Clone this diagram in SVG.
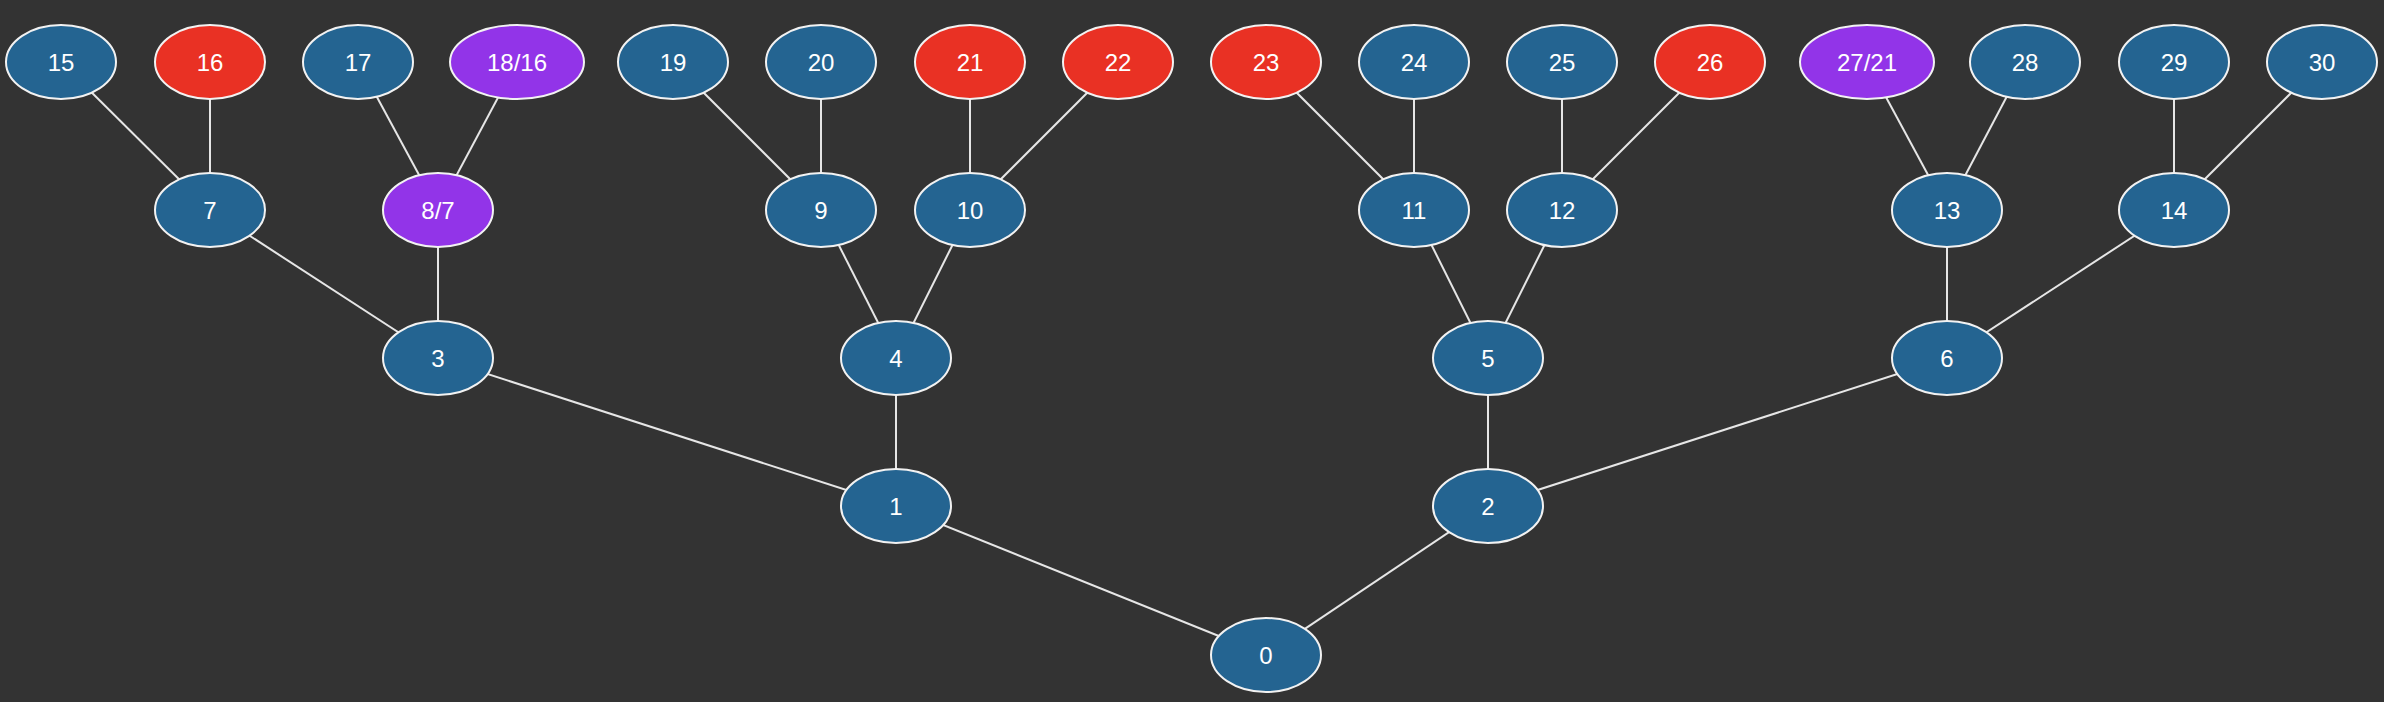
<svg xmlns="http://www.w3.org/2000/svg" width="2384" height="702" viewBox="0 0 2384 702">
<style>
.n ellipse{stroke:#f2f2f2;stroke-width:2}
.b ellipse{fill:#246491}
.r ellipse{fill:#e93124}
.p ellipse{fill:#9234e8}
.n text{fill:#ffffff;font-family:"Liberation Sans",Arial,sans-serif;font-size:24px;text-anchor:middle;dominant-baseline:central}
#edges line{stroke:#e6e6e6;stroke-width:2}
</style>
<rect width="2384" height="702" fill="#333333"/>
<g id="edges">
<line x1="61" y1="62" x2="210" y2="210"/>
<line x1="210" y1="62" x2="210" y2="210"/>
<line x1="358" y1="62" x2="438" y2="210"/>
<line x1="517" y1="62" x2="438" y2="210"/>
<line x1="673" y1="62" x2="821" y2="210"/>
<line x1="821" y1="62" x2="821" y2="210"/>
<line x1="970" y1="62" x2="970" y2="210"/>
<line x1="1118" y1="62" x2="970" y2="210"/>
<line x1="1266" y1="62" x2="1414" y2="210"/>
<line x1="1414" y1="62" x2="1414" y2="210"/>
<line x1="1562" y1="62" x2="1562" y2="210"/>
<line x1="1710" y1="62" x2="1562" y2="210"/>
<line x1="1867" y1="62" x2="1947" y2="210"/>
<line x1="2025" y1="62" x2="1947" y2="210"/>
<line x1="2174" y1="62" x2="2174" y2="210"/>
<line x1="2322" y1="62" x2="2174" y2="210"/>
<line x1="210" y1="210" x2="438" y2="358"/>
<line x1="438" y1="210" x2="438" y2="358"/>
<line x1="821" y1="210" x2="896" y2="358"/>
<line x1="970" y1="210" x2="896" y2="358"/>
<line x1="1414" y1="210" x2="1488" y2="358"/>
<line x1="1562" y1="210" x2="1488" y2="358"/>
<line x1="1947" y1="210" x2="1947" y2="358"/>
<line x1="2174" y1="210" x2="1947" y2="358"/>
<line x1="438" y1="358" x2="896" y2="506"/>
<line x1="896" y1="358" x2="896" y2="506"/>
<line x1="1488" y1="358" x2="1488" y2="506"/>
<line x1="1947" y1="358" x2="1488" y2="506"/>
<line x1="896" y1="506" x2="1266" y2="655"/>
<line x1="1488" y1="506" x2="1266" y2="655"/>
</g>
<g id="n15" class="n b"><ellipse cx="61" cy="62" rx="55" ry="37"/><text x="61" y="62">15</text></g>
<g id="n16" class="n r"><ellipse cx="210" cy="62" rx="55" ry="37"/><text x="210" y="62">16</text></g>
<g id="n17" class="n b"><ellipse cx="358" cy="62" rx="55" ry="37"/><text x="358" y="62">17</text></g>
<g id="n18" class="n p"><ellipse cx="517" cy="62" rx="67" ry="37"/><text x="517" y="62">18/16</text></g>
<g id="n19" class="n b"><ellipse cx="673" cy="62" rx="55" ry="37"/><text x="673" y="62">19</text></g>
<g id="n20" class="n b"><ellipse cx="821" cy="62" rx="55" ry="37"/><text x="821" y="62">20</text></g>
<g id="n21" class="n r"><ellipse cx="970" cy="62" rx="55" ry="37"/><text x="970" y="62">21</text></g>
<g id="n22" class="n r"><ellipse cx="1118" cy="62" rx="55" ry="37"/><text x="1118" y="62">22</text></g>
<g id="n23" class="n r"><ellipse cx="1266" cy="62" rx="55" ry="37"/><text x="1266" y="62">23</text></g>
<g id="n24" class="n b"><ellipse cx="1414" cy="62" rx="55" ry="37"/><text x="1414" y="62">24</text></g>
<g id="n25" class="n b"><ellipse cx="1562" cy="62" rx="55" ry="37"/><text x="1562" y="62">25</text></g>
<g id="n26" class="n r"><ellipse cx="1710" cy="62" rx="55" ry="37"/><text x="1710" y="62">26</text></g>
<g id="n27" class="n p"><ellipse cx="1867" cy="62" rx="67" ry="37"/><text x="1867" y="62">27/21</text></g>
<g id="n28" class="n b"><ellipse cx="2025" cy="62" rx="55" ry="37"/><text x="2025" y="62">28</text></g>
<g id="n29" class="n b"><ellipse cx="2174" cy="62" rx="55" ry="37"/><text x="2174" y="62">29</text></g>
<g id="n30" class="n b"><ellipse cx="2322" cy="62" rx="55" ry="37"/><text x="2322" y="62">30</text></g>
<g id="n7" class="n b"><ellipse cx="210" cy="210" rx="55" ry="37"/><text x="210" y="210">7</text></g>
<g id="n8" class="n p"><ellipse cx="438" cy="210" rx="55" ry="37"/><text x="438" y="210">8/7</text></g>
<g id="n9" class="n b"><ellipse cx="821" cy="210" rx="55" ry="37"/><text x="821" y="210">9</text></g>
<g id="n10" class="n b"><ellipse cx="970" cy="210" rx="55" ry="37"/><text x="970" y="210">10</text></g>
<g id="n11" class="n b"><ellipse cx="1414" cy="210" rx="55" ry="37"/><text x="1414" y="210">11</text></g>
<g id="n12" class="n b"><ellipse cx="1562" cy="210" rx="55" ry="37"/><text x="1562" y="210">12</text></g>
<g id="n13" class="n b"><ellipse cx="1947" cy="210" rx="55" ry="37"/><text x="1947" y="210">13</text></g>
<g id="n14" class="n b"><ellipse cx="2174" cy="210" rx="55" ry="37"/><text x="2174" y="210">14</text></g>
<g id="n3" class="n b"><ellipse cx="438" cy="358" rx="55" ry="37"/><text x="438" y="358">3</text></g>
<g id="n4" class="n b"><ellipse cx="896" cy="358" rx="55" ry="37"/><text x="896" y="358">4</text></g>
<g id="n5" class="n b"><ellipse cx="1488" cy="358" rx="55" ry="37"/><text x="1488" y="358">5</text></g>
<g id="n6" class="n b"><ellipse cx="1947" cy="358" rx="55" ry="37"/><text x="1947" y="358">6</text></g>
<g id="n1" class="n b"><ellipse cx="896" cy="506" rx="55" ry="37"/><text x="896" y="506">1</text></g>
<g id="n2" class="n b"><ellipse cx="1488" cy="506" rx="55" ry="37"/><text x="1488" y="506">2</text></g>
<g id="n0" class="n b"><ellipse cx="1266" cy="655" rx="55" ry="37"/><text x="1266" y="655">0</text></g>
</svg>
